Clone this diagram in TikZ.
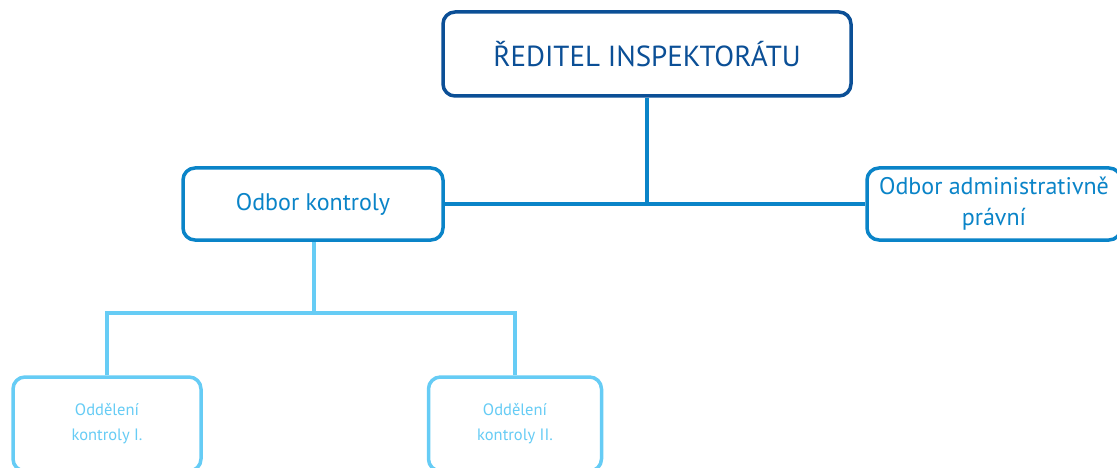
\documentclass[tikz,border=0pt]{standalone}
\usepackage{fontspec}
\setmainfont{PT Sans}
\usetikzlibrary{positioning}
\definecolor{darkblue}{HTML}{0B4F96}
\definecolor{midblue}{HTML}{0A84C8}
\definecolor{lightblue}{HTML}{66CCF5}

\begin{document}
\begin{tikzpicture}[x=1pt,y=-1pt,
    box/.style={draw, rounded corners=12pt, line width=3.5pt, fill=white,
      align=center, inner sep=0pt},
    topbox/.style={box, draw=darkblue, text=darkblue, font=\fontsize{29}{34}\selectfont},
    midbox/.style={box, draw=midblue, text=midblue, font=\fontsize{24}{31}\selectfont},
    lowbox/.style={box, draw=lightblue, text=lightblue, font=\fontsize{16.5}{25}\selectfont},
    link/.style={line width=3.5pt}]
    %page size of the reference, boxes on the right and bottom run off it
    \useasboundingbox (0,0) rectangle (1117,468);
    \clip (0,0) rectangle (1117,468);

    %the head
    \node[topbox, minimum width=408pt, minimum height=84pt] (head) at (647,54)
      {ŘEDITEL INSPEKTORÁTU};

    %second level
    \node[midbox, minimum width=260pt, minimum height=72pt] (kon) at (313,204)
      {Odbor kontroly};
    \node[midbox, minimum width=254pt, minimum height=72pt] (adm) at (994,204)
      {Odbor administrativně\\právní};

    %third level
    \node[lowbox, minimum width=188pt, minimum height=94pt] (oddI) at (107,424)
      {Oddělení\\kontroly I.};
    \node[lowbox, minimum width=173pt, minimum height=94pt] (oddII) at (515,424)
      {Oddělení\\kontroly II.};

    \coordinate (fork) at (314,313);

    %connectors
    \draw[link, midblue] (kon.east) -- (adm.west);
    \draw[link, midblue] (head.south) -- (head.south |- kon.east);
    \draw[link, lightblue] (kon.south -| fork) -- (fork);
    \draw[link, lightblue] (oddI.north) |- (fork) -| (oddII.north);
\end{tikzpicture}
\end{document}
